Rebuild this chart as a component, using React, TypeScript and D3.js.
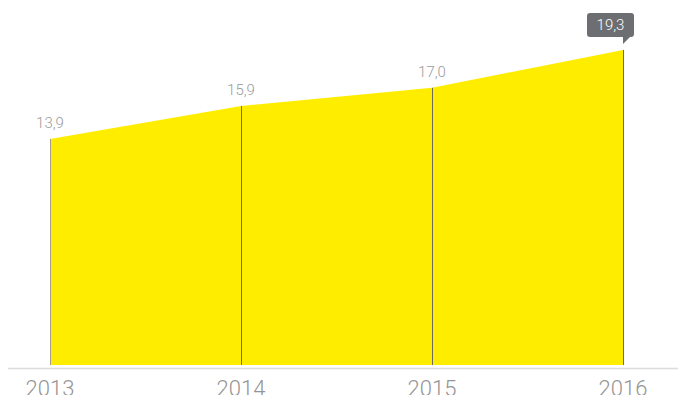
import { useEffect, useRef } from 'react';
import * as d3 from 'd3';

const years = ['2013', '2014', '2015', '2016'];
const values = [13.9, 15.9, 17.0, 19.3];

const fmt = (v: number) => v.toFixed(1).replace('.', ',');

const AreaChart = () => {
  const svgRef = useRef<SVGSVGElement | null>(null);

  useEffect(() => {
    if (!svgRef.current) return;
    const width = 686;
    const height = 403;
    const svg = d3.select(svgRef.current);
    svg.selectAll('*').remove();
    svg.attr('width', width).attr('height', height);

    const x = d3.scalePoint().domain(years).range([50, 623]);
    const y = d3.scaleLinear().domain([0, 22.33]).range([368, 0]);
    const base = 365;

    const data = years.map((yr, i) => ({ yr, v: values[i] }));

    const area = d3
      .area<{ yr: string; v: number }>()
      .x((d) => x(d.yr)!)
      .y0(base)
      .y1((d) => y(d.v));

    svg.append('path').datum(data).attr('d', area).attr('fill', '#ffed00');

    // vertical drop lines
    svg
      .selectAll('line.drop')
      .data(data)
      .enter()
      .append('line')
      .attr('x1', (d) => x(d.yr)! + 0.5)
      .attr('x2', (d) => x(d.yr)! + 0.5)
      .attr('y1', (d) => y(d.v))
      .attr('y2', base)
      .attr('stroke', (d, i) => (i === 0 ? '#a39e86' : '#6b6b5e'))
      .attr('stroke-width', 1);

    // baseline axis
    svg
      .append('line')
      .attr('x1', 3)
      .attr('x2', width)
      .attr('y1', 368.5)
      .attr('y2', 368.5)
      .attr('stroke', '#dcdcdc')
      .attr('stroke-width', 1.5);

    // year labels
    svg
      .selectAll('text.year')
      .data(years)
      .enter()
      .append('text')
      .attr('x', (d) => x(d)!)
      .attr('y', 396)
      .attr('text-anchor', 'middle')
      .attr('font-family', 'Roboto, sans-serif')
      .attr('font-weight', 300)
      .attr('font-size', 22)
      .attr('fill', '#959595')
      .text((d) => d);

    // value labels (all but last)
    svg
      .selectAll('text.val')
      .data(data.slice(0, -1))
      .enter()
      .append('text')
      .attr('x', (d) => x(d.yr)!)
      .attr('y', (d) => y(d.v) - 11)
      .attr('text-anchor', 'middle')
      .attr('font-family', 'Roboto, sans-serif')
      .attr('font-weight', 300)
      .attr('font-size', 15)
      .attr('fill', '#9a9a9a')
      .text((d) => fmt(d.v));

    // callout for last value
    const last = data[data.length - 1];
    const lx = x(last.yr)!;
    const ly = y(last.v);
    const bw = 47;
    const bh = 24;
    const bx = lx - 36;
    const by = ly - 37;
    const g = svg.append('g');
    g.append('rect')
      .attr('x', bx)
      .attr('y', by)
      .attr('width', bw)
      .attr('height', bh)
      .attr('rx', 3)
      .attr('fill', '#6d6e71');
    g.append('path')
      .attr('d', `M${lx},${by + bh - 1} L${lx + 8},${by + bh - 1} L${lx},${by + bh + 7} Z`)
      .attr('fill', '#6d6e71');
    g.append('text')
      .attr('x', bx + bw / 2)
      .attr('y', by + 17)
      .attr('text-anchor', 'middle')
      .attr('font-family', 'Roboto, sans-serif')
      .attr('font-weight', 300)
      .attr('font-size', 15)
      .attr('fill', '#ffffff')
      .text(fmt(last.v));
  }, []);

  return <svg ref={svgRef} style={{ display: 'block' }} />;
};

export default function App() {
  return (
    <div style={{ margin: -8 }}>
      <AreaChart />
    </div>
  );
}
